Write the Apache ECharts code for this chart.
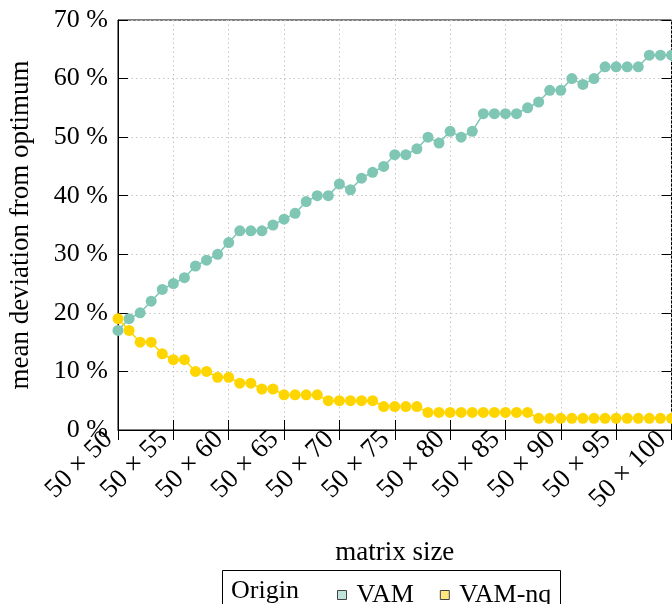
<!DOCTYPE html>
<html><head><meta charset="utf-8">
<script src="https://cdn.jsdelivr.net/npm/echarts@6/dist/echarts.min.js"></script>
<style>html,body{margin:0;padding:0;background:#fff}#c{width:672px;height:604px}</style>
</head><body><div id="c"></div>
<script>
const matrixN = [50,51,52,53,54,55,56,57,58,59,60,61,62,63,64,65,66,67,68,69,70,71,72,73,74,75,76,77,78,79,80,81,82,83,84,85,86,87,88,89,90,91,92,93,94,95,96,97,98,99,100];
const vam = [17,19,20,22,24,25,26,28,29,30,32,34,34,34,35,36,37,39,40,40,42,41,43,44,45,47,47,48,50,49,51,50,51,54,54,54,54,55,56,58,58,60,59,60,62,62,62,62,64,64,64];
const vamNq = [19,17,15,15,13,12,12,10,10,9,9,8,8,7,7,6,6,6,6,5,5,5,5,5,4,4,4,4,3,3,3,3,3,3,3,3,3,3,2,2,2,2,2,2,2,2,2,2,2,2,2];
const seriesNames = ['VAM', 'VAM-nq'];
const legendTitle = 'Origin';
const xTitle = 'matrix size';
const yTitle = 'mean deviation from optimum';

const FONT = "'Liberation Serif', 'Times New Roman', serif";
const teal = '#7fc6b4', gold = '#ffd500';

const chart = echarts.init(document.getElementById('c'), null, {renderer: 'canvas'});
const pairs = arr => matrixN.map((n, i) => [n, arr[i]]);
const tickCommon = {show: true, inside: true, length: 10, lineStyle: {color: '#000', width: 1}};
chart.setOption({
  animation: false,
  backgroundColor: '#fff',
  textStyle: {fontFamily: FONT},
  grid: {left: 118, top: 20, right: 0.5, bottom: 174, show: true, borderColor: '#000', borderWidth: 1,
    containLabel: false, outerBoundsMode: 'none'},
  xAxis: [{
    type: 'value', min: 50, max: 100, interval: 5,
    name: xTitle, nameLocation: 'middle', nameGap: 109,
    nameTextStyle: {fontFamily: FONT, fontSize: 27, color: '#000'},
    axisLine: {show: true, lineStyle: {color: '#000', width: 1}},
    axisTick: tickCommon,
    axisLabel: {rotate: 45, margin: 15, verticalAlign: 'bottom', showMinLabel: true, showMaxLabel: true, hideOverlap: false,
      fontFamily: FONT, fontSize: 27, color: '#000',
      formatter: v => '50 \u00d7 ' + v},
    splitLine: {show: true, lineStyle: {color: '#c4c4c4', type: [1.5, 3], width: 1}}
  }, {
    type: 'value', min: 50, max: 100, interval: 5, position: 'top',
    axisLine: {show: false}, axisTick: tickCommon, axisLabel: {show: false}, splitLine: {show: false}
  }],
  yAxis: [{
    type: 'value', min: 0, max: 70, interval: 10,
    name: yTitle, nameLocation: 'middle', nameGap: 84,
    nameTextStyle: {fontFamily: FONT, fontSize: 27, color: '#000'},
    axisLine: {show: true, lineStyle: {color: '#000', width: 1}},
    axisTick: tickCommon,
    axisLabel: {margin: 10, fontFamily: FONT, fontSize: 26, color: '#000', formatter: v => v + ' %'},
    splitLine: {show: true, lineStyle: {color: '#c4c4c4', type: [1.5, 3], width: 1}}
  }, {
    type: 'value', min: 0, max: 70, interval: 10, position: 'right',
    axisLine: {show: false}, axisTick: tickCommon, axisLabel: {show: false}, splitLine: {show: false}
  }],
  legend: {
    left: 332, top: 577, itemWidth: 9, itemHeight: 9, itemGap: 26, icon: 'rect',
    textStyle: {fontFamily: FONT, fontSize: 26, color: '#000', padding: [0, 0, 0, 5]},
    data: [
      {name: seriesNames[0], itemStyle: {color: '#bfe3da', borderColor: '#444', borderWidth: 1}},
      {name: seriesNames[1], itemStyle: {color: '#ffe680', borderColor: '#444', borderWidth: 1}}
    ]
  },
  graphic: [
    {type: 'rect', shape: {x: 222.5, y: 570.5, width: 338, height: 40}, style: {fill: 'none', stroke: '#000', lineWidth: 1}, silent: true},
    {type: 'text', x: 231, y: 591, style: {text: legendTitle, font: "26px 'Liberation Serif', serif", fill: '#000', verticalAlign: 'middle'}, silent: true}
  ],
  series: [
    {name: seriesNames[0], type: 'line', data: pairs(vam), symbol: 'circle', symbolSize: 11, clip: false,
      itemStyle: {color: teal}, lineStyle: {color: teal, width: 1.5}},
    {name: seriesNames[1], type: 'line', data: pairs(vamNq), symbol: 'circle', symbolSize: 11, clip: false,
      itemStyle: {color: gold}, lineStyle: {color: gold, width: 1.5}}
  ]
});
</script></body></html>
